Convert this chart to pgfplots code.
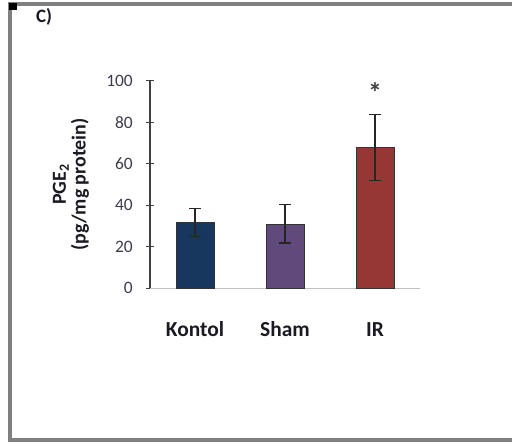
\documentclass[border=0pt]{standalone}
\usepackage{fontspec}
\setmainfont{Carlito}
\usepackage{pgfplots}
\pgfplotsset{compat=1.18}
\definecolor{framegray}{HTML}{808080}
\definecolor{barA}{HTML}{17375E}
\definecolor{barB}{HTML}{604A7B}
\definecolor{barC}{HTML}{953735}
\definecolor{ticktxt}{HTML}{403B4A}
\definecolor{txt}{HTML}{1A1A22}
\begin{document}
\begin{tikzpicture}[x=1bp,y=1bp]
\useasboundingbox (0,0) rectangle (512,446);
% frame
\draw[framegray, line width=3.2bp] (512,442) -- (10,442) -- (10,6) -- (512,6);
\fill[black] (9,436) rectangle (17,443);
\node[font=\fontsize{19}{19}\selectfont\bfseries, text=txt] at (44,429.5) {C)};
\begin{axis}[
  at={(150bp,157.7bp)}, anchor=south west,
  scale only axis, width=270bp, height=207.6bp,
  xmin=-0.5, xmax=2.5, ymin=0, ymax=100,
  axis x line=bottom, axis y line=left,
  x axis line style={-, draw=black!25, line width=1.5bp},
  y axis line style={-, draw=black!75, line width=1.2bp},
  xtick={0,1,2}, xticklabels={Kontol,Sham,IR},
  x tick style={draw=none}, major tick length=8bp,
  ytick={0,20,40,60,80,100},
  y tick style={draw=black!75, line width=1.2bp},
  tick align=center,
  /pgf/number format/assume math mode=true,
  yticklabel style={font=\fontsize{17.5}{17.5}\selectfont, text=ticktxt, anchor=east, inner sep=0pt, xshift=-13bp},
  xticklabel style={font=\fontsize{21.5}{21.5}\selectfont\bfseries, text=txt, anchor=base, yshift=-40bp},
  ylabel={PGE\textsubscript{2}\\(pg/mg protein)},
  ylabel style={font=\fontsize{20}{20}\selectfont\bfseries, text=txt, align=center, at={(axis description cs:-0.293,0.5)}, anchor=center},
  ybar, bar width=38bp,
  error bars/error bar style={line width=1.2bp, draw=black!85},
  error bars/error mark options={rotate=90, mark size=6bp, line width=1.2bp, draw=black!85},
  clip=false,
]
\addplot[fill=barA, draw=black!80, line width=0.8bp, bar shift=0pt,
  error bars/.cd, y dir=both, y explicit] coordinates {(0,31.7) +- (0,6.8)};
\addplot[fill=barB, draw=black!80, line width=0.8bp, bar shift=0pt,
  error bars/.cd, y dir=both, y explicit] coordinates {(1,31.0) +- (0,9.2)};
\addplot[fill=barC, draw=black!80, line width=0.8bp, bar shift=0pt,
  error bars/.cd, y dir=both, y explicit] coordinates {(2,67.9) +- (0,16.0)};
\node[font=\fontsize{28}{28}\selectfont\bfseries, text=black!75] at (axis cs:2,94.5) {*};
\end{axis}
\end{tikzpicture}
\end{document}
